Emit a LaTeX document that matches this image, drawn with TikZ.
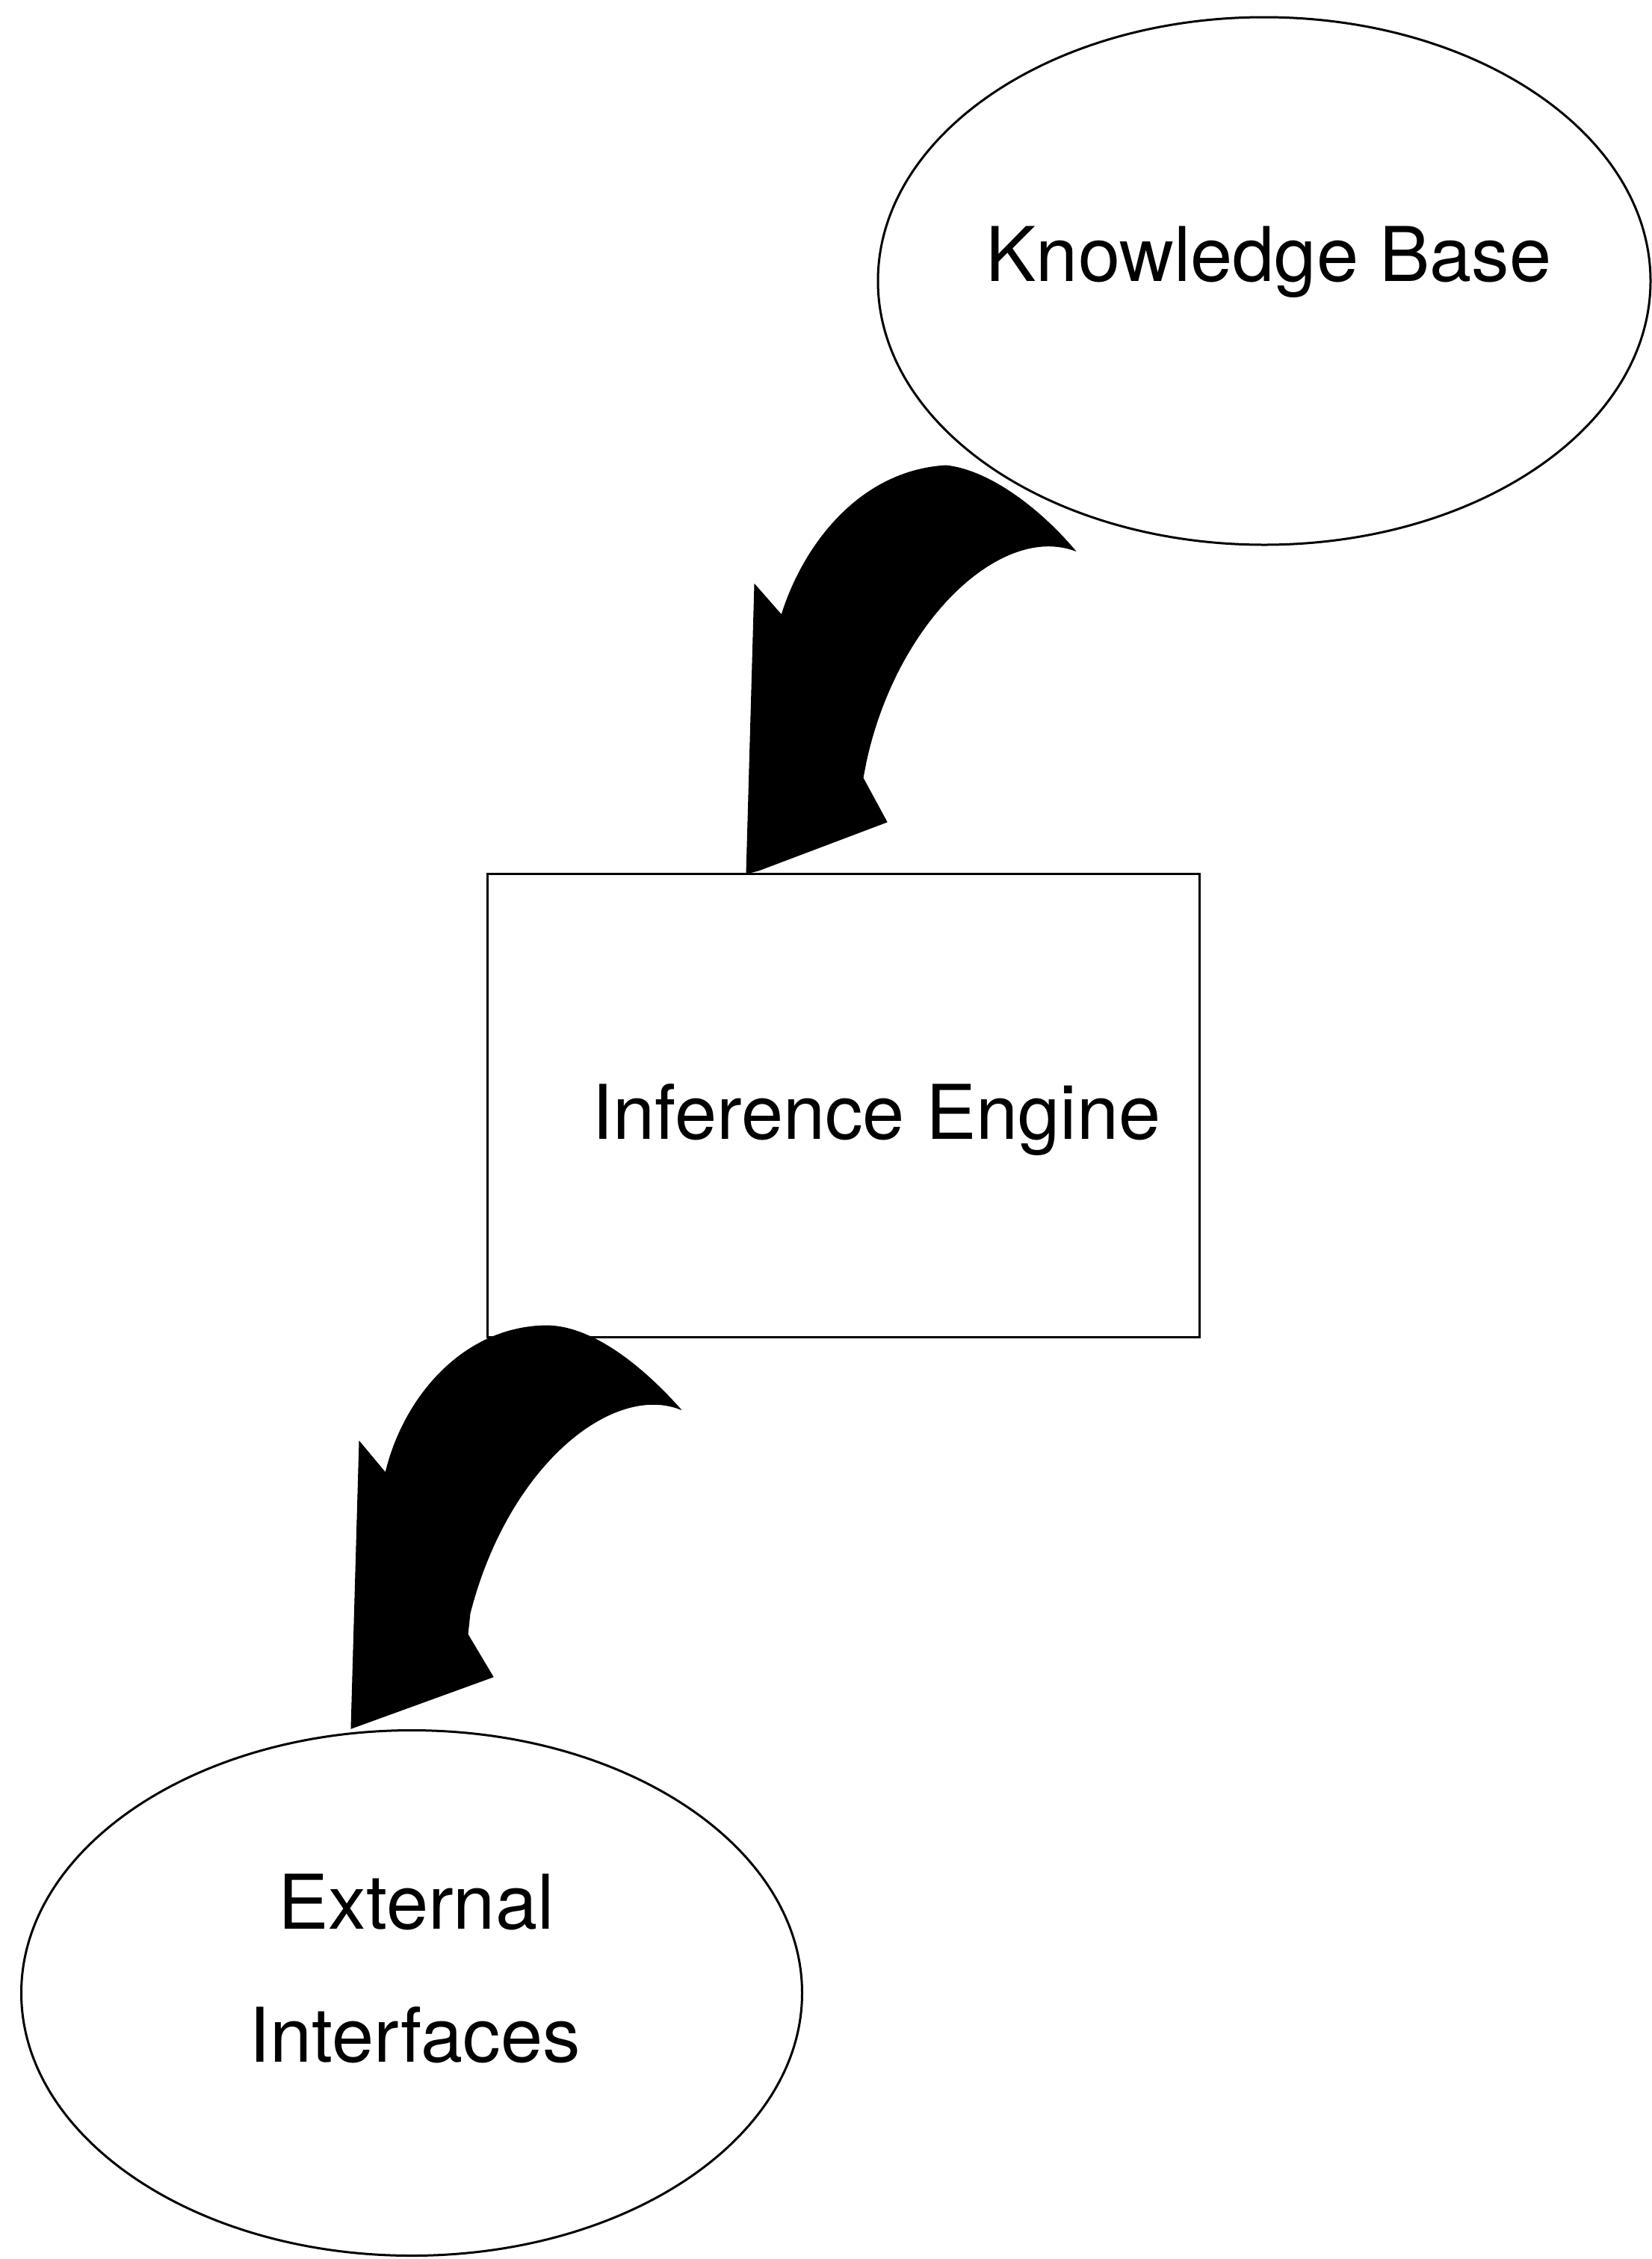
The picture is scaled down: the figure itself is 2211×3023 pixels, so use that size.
\documentclass[tikz,border=0pt]{standalone}
\usepackage{fontspec}
\setmainfont{TeX Gyre Heros}
\usetikzlibrary{shapes.geometric}
\begin{document}
\begin{tikzpicture}[x=1pt,y=-1pt,
  outline/.style={draw=black, line width=3pt},
  blob/.style={ellipse, outline, inner sep=0pt},
  boxshape/.style={rectangle, outline, inner sep=0pt},
  label/.style={anchor=base, inner sep=0pt, font=\fontsize{101}{120}\selectfont},
  bigarrow/.style={fill=black, draw=black, line width=1pt, line join=miter}]
\useasboundingbox (0,0) rectangle (2211,3023);
\fill[white] (0,0) rectangle (2211,3023);

% shapes
\node[blob, minimum width=1034pt, minimum height=706pt] (kb) at (1692,376) {};
\node[boxshape, minimum width=953pt, minimum height=620pt] (ie) at (1128.5,1479) {};
\node[blob, minimum width=1045pt, minimum height=703pt] (ei) at (551,2667) {};

% texts
\node[label] (kbt) at (1698,376) {Knowledge Base};
\node[label] (iet) at (1173,1524) {Inference Engine};
\node[label] (eit1) at (557,2581) {External};
\node[label] (eit2) at (555,2759) {Interfaces};

% arrow 1 : Knowledge Base -> Inference Engine
\coordinate (a1tip) at (999,1169);
\fill[bigarrow] (1046,823) -- (1010,782) -- (a1tip) -- (1015,1165) -- (1187,1100) -- (1155,1041)
  -- (1159,1020) .. controls (1200,830) and (1340,700) .. (1439,737)
  .. controls (1400,690) and (1330,630) .. (1266,623)
  .. controls (1150,630) and (1075,730) .. (1046,823)
  -- cycle;

% arrow 2 : Inference Engine -> External Interfaces
\coordinate (a2tip) at (470,2313);
\fill[bigarrow] (516,1971) -- (481,1929) -- (a2tip) -- (660,2244) -- (626,2187)
  -- (629,2159) .. controls (680,1960) and (820,1850) .. (911,1886)
  .. controls (870,1840) and (800,1775) .. (732,1774)
  .. controls (620,1775) and (540,1870) .. (516,1971)
  -- cycle;
\end{tikzpicture}
\end{document}
